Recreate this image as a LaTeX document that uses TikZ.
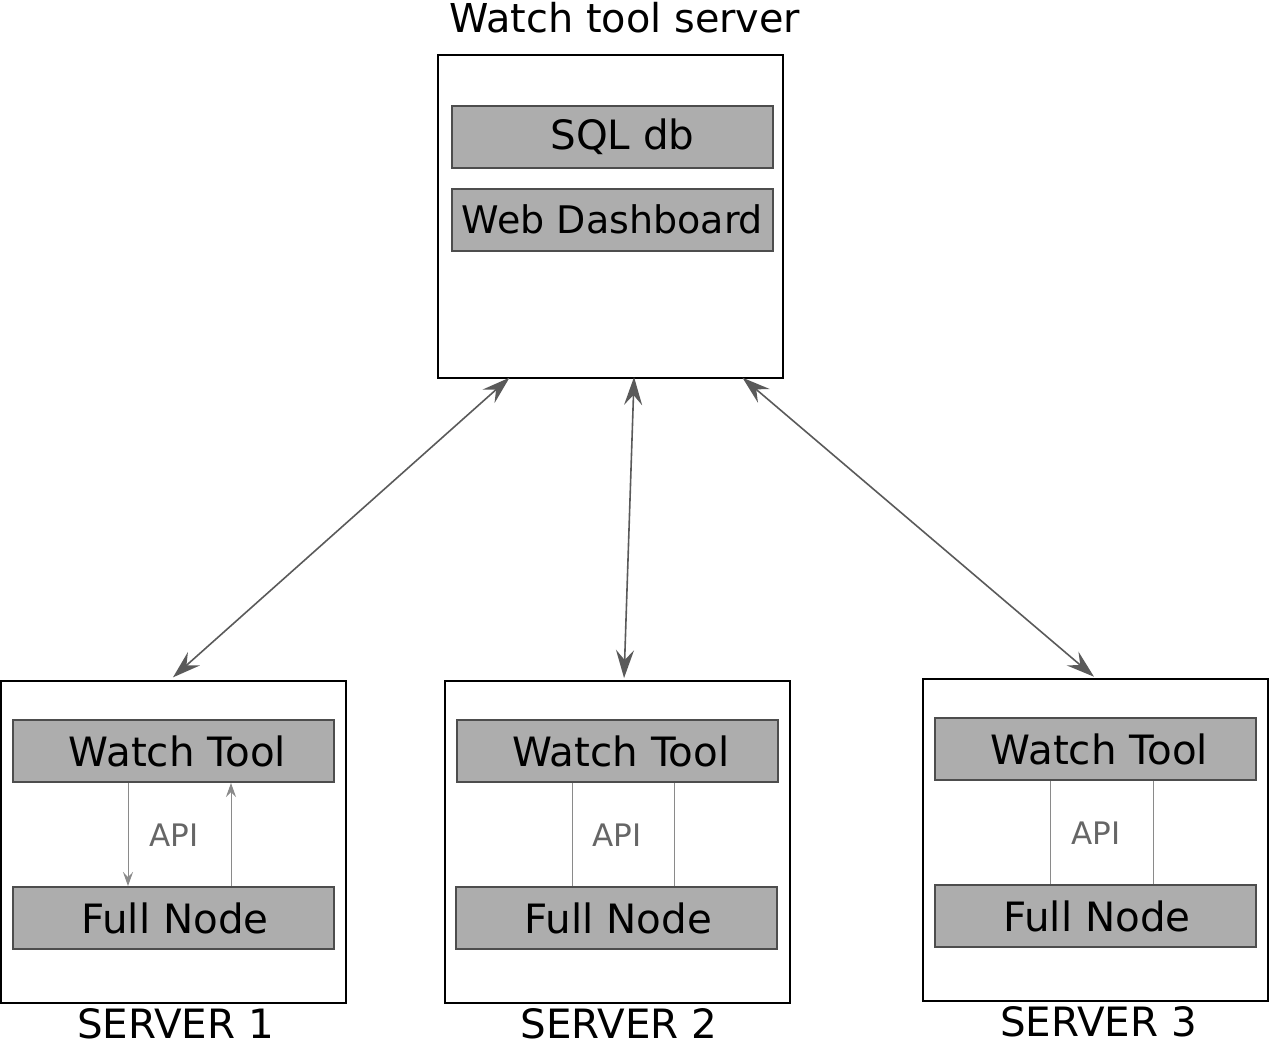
\documentclass[tikz,border=0pt]{standalone}
\usepackage{fontspec}
\setmainfont{DejaVu Sans}
\usetikzlibrary{arrows.meta}

\definecolor{partfill}{HTML}{ADADAD}
\definecolor{partedge}{HTML}{4D4D4D}
\definecolor{linkgray}{HTML}{5A5A5A}
\definecolor{apigray}{HTML}{8A8A8A}

\tikzset{
  serverbox/.style={draw=black, line width=1pt, fill=white,
    minimum width=172.5pt, minimum height=161pt},
  part/.style={draw=partedge, line width=1pt, fill=partfill,
    minimum width=160.5pt, minimum height=31pt,
    font=\fontsize{20.2pt}{22pt}\selectfont},
  title/.style={anchor=base, font=\fontsize{20.2pt}{22pt}\selectfont},
  link/.style={linkgray, line width=0.8pt,
    {Stealth[length=14pt,width=9pt,inset=5pt]}-{Stealth[length=14pt,width=9pt,inset=5pt]}},
  apiline/.style={apigray, line width=0.5pt},
  apilabel/.style={text=black!60, font=\fontsize{15.5pt}{16pt}\selectfont},
}

\begin{document}
\begin{tikzpicture}[x=0.5pt, y=-0.5pt]
  \useasboundingbox (0,0) rectangle (1270,1041);

  % watch tool server
  \node[serverbox, minimum height=161.5pt] (watch) at (610.5,216.5) {};
  \node[title, font=\fontsize{19.9pt}{22pt}\selectfont] (watchlabel) at (625,32) {Watch tool server};
  \node[part] (sql) at (612.5,136.5) {\hspace*{10pt}SQL db};
  \node[part, font=\fontsize{19pt}{22pt}\selectfont] (dash) at (612.5,219.5) {Web Dashboard};

  % the three servers
  \node[serverbox] (s1) at (173.5,842) {};
  \node[serverbox] (s2) at (617,842) {};
  \node[serverbox] (s3) at (1095.5,840) {};
  \node[title] (s1label) at (175.5,1038) {SERVER 1};
  \node[title] (s2label) at (619,1038) {SERVER 2};
  \node[title] (s3label) at (1098.5,1036) {SERVER 3};

  \node[part] (wt1) at (173.5,751) {\hspace*{4pt}Watch Tool};
  \node[part] (fn1) at (173,918) {\hspace*{2pt}Full Node};
  \node[part] (wt2) at (617,751) {\hspace*{4pt}Watch Tool};
  \node[part] (fn2) at (616.5,918) {\hspace*{2pt}Full Node};
  \node[part] (wt3) at (1095.5,749) {\hspace*{4pt}Watch Tool};
  \node[part] (fn3) at (1095,916) {\hspace*{2pt}Full Node};

  % API between watch tool and full node
  \draw[apiline, -{Stealth[length=7pt,width=5pt,inset=2.5pt]}] ([xshift=-22.75pt]wt1.south) -- ([xshift=-22.75pt]wt1.south |- fn1.north);
  \draw[apiline, -{Stealth[length=7pt,width=5pt,inset=2.5pt]}] ([xshift=28.75pt]wt1.south |- fn1.north) -- ([xshift=28.75pt]wt1.south);
  \node[apilabel] (api1) at (174,835) {API};
  \draw[apiline] ([xshift=-22.5pt]wt2.south) -- ([xshift=-22.5pt]wt2.south |- fn2.north);
  \draw[apiline] ([xshift=28.5pt]wt2.south) -- ([xshift=28.5pt]wt2.south |- fn2.north);
  \node[apilabel] (api2) at (617,835) {API};
  \draw[apiline] ([xshift=-22.75pt]wt3.south) -- ([xshift=-22.75pt]wt3.south |- fn3.north);
  \draw[apiline] ([xshift=28.75pt]wt3.south) -- ([xshift=28.75pt]wt3.south |- fn3.north);
  \node[apilabel] (api3) at (1096,833) {API};

  % links to the watch tool server
  \draw[link, shorten <=-1pt, shorten >=2pt] ([xshift=-51.25pt]watch.south) -- ([xshift=-1.75pt]s1.north);
  \draw[link, shorten <=-1pt, shorten >=1pt] ([xshift=11.75pt]watch.south) -- ([xshift=3.5pt]s2.north);
  \draw[link, shorten <=-1pt, shorten >=1pt] ([xshift=66.75pt]watch.south) -- (s3.north);
\end{tikzpicture}
\end{document}
